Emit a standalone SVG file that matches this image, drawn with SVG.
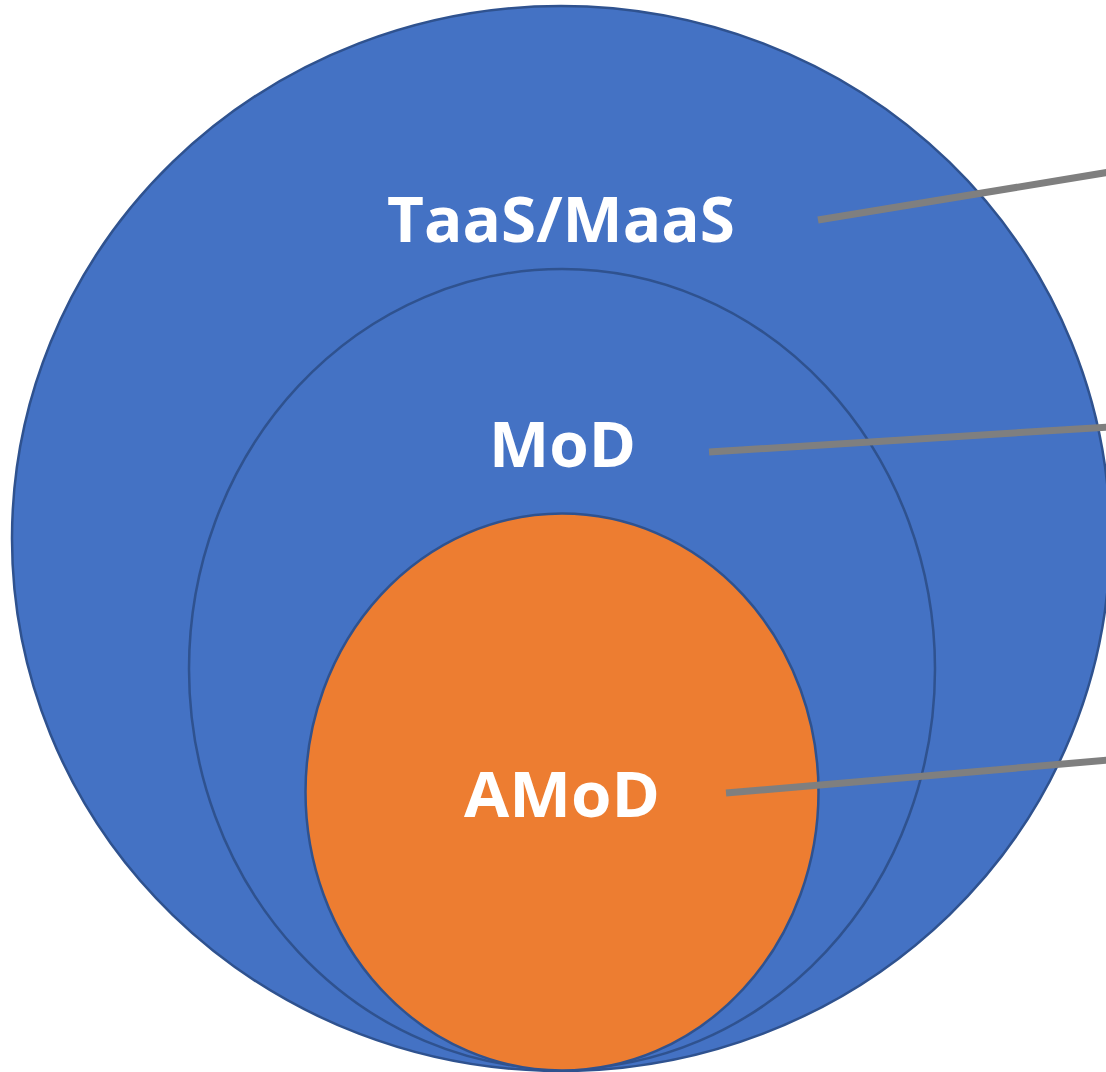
<svg xmlns="http://www.w3.org/2000/svg" width="1106" height="1072" viewBox="0 0 1106 1072">
  <style>
    .ring { fill: #4472C4; stroke: #2F528F; stroke-width: 2.5; }
    .core { fill: #ED7D31; stroke: #2F528F; stroke-width: 2.5; }
    .label { font-family: "Open Sans", "Liberation Sans", sans-serif; font-weight: bold; font-size: 63px; fill: #FFFFFF; }
    .leader { stroke: #7F7F7F; stroke-width: 7; fill: none; }
  </style>
  <rect width="1106" height="1072" fill="#FFFFFF"/>
  <g id="taas-maas">
    <ellipse class="ring" cx="561" cy="538.5" rx="549" ry="532.5"/>
    <text class="label" x="387" y="242" textLength="348" lengthAdjust="spacingAndGlyphs">TaaS/MaaS</text>
  </g>
  <g id="mod">
    <ellipse class="ring" cx="562" cy="669" rx="373" ry="400"/>
    <text class="label" x="489" y="467" textLength="147" lengthAdjust="spacingAndGlyphs">MoD</text>
  </g>
  <g id="amod">
    <ellipse class="core" cx="562" cy="792" rx="256.5" ry="278.5"/>
    <text class="label" x="464" y="817" textLength="196" lengthAdjust="spacingAndGlyphs">AMoD</text>
  </g>
  <g id="connectors">
    <line class="leader" x1="818" y1="220" x2="1110" y2="172"/>
    <line class="leader" x1="709" y1="452" x2="1110" y2="427"/>
    <line class="leader" x1="726" y1="793" x2="1110" y2="760"/>
  </g>
</svg>
